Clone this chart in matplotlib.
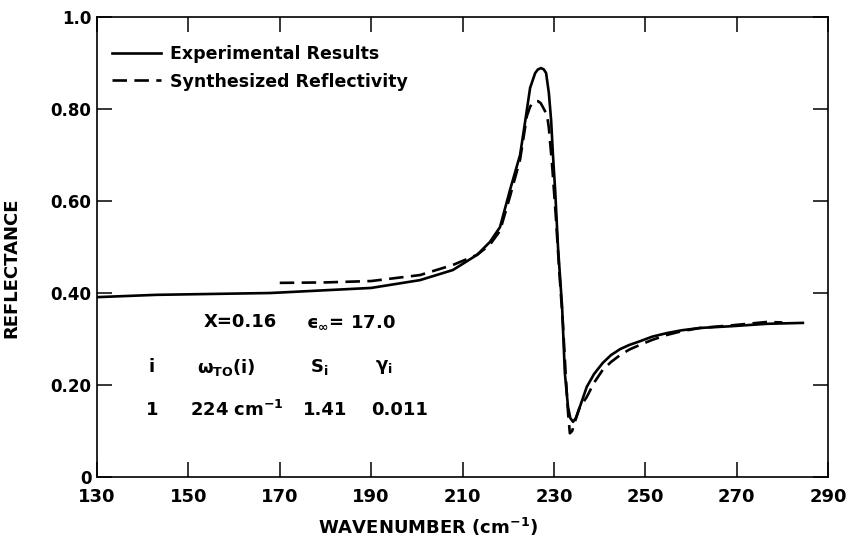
import matplotlib
matplotlib.use("Agg")
import matplotlib.pyplot as plt

plt.rcParams['font.family'] = ['DejaVu Sans']
plt.rcParams['mathtext.fontset'] = 'custom'
plt.rcParams['mathtext.rm'] = 'DejaVu Sans:bold'
plt.rcParams['mathtext.it'] = 'DejaVu Sans:bold'
plt.rcParams['mathtext.bf'] = 'DejaVu Sans:bold'
plt.rcParams['mathtext.sf'] = 'DejaVu Sans:bold'

# Experimental results (solid)
exp_x = [130, 143, 168, 190, 200.7, 207.9, 213.2, 216.0, 218.2, 220.4, 222.6,
         223.7, 224.8, 225.9, 226.5, 227.2, 227.8, 228.3, 228.9, 229.4, 229.8,
         230.3, 230.9, 231.8, 232.4, 233.1, 233.6, 234.2, 234.8, 235.6, 237.2,
         238.8, 240.7, 242.5, 244.5, 246.5, 248.8, 251.5, 254.8, 258.0, 262.0,
         269.2, 276.6, 284.5]
exp_y = [0.391, 0.396, 0.400, 0.411, 0.428, 0.450, 0.483, 0.511, 0.543, 0.624, 0.700,
         0.772, 0.846, 0.878, 0.886, 0.889, 0.886, 0.878, 0.835, 0.775, 0.700,
         0.620, 0.500, 0.370, 0.226, 0.152, 0.128, 0.120, 0.128, 0.150, 0.196,
         0.224, 0.248, 0.265, 0.278, 0.287, 0.295, 0.305, 0.313, 0.319, 0.324,
         0.328, 0.333, 0.335]

# Synthesized reflectivity (dashed)
syn_x = [170, 180, 190, 200.7, 207.9, 213.2, 216.0, 218.2, 220.4, 222.6, 224.1,
         224.8, 225.4, 225.9, 226.5, 227.1, 227.6, 228.5, 228.9, 229.6, 230.4,
         231.1, 232.0, 232.6, 233.1, 233.5, 234.0, 234.6, 235.6, 237.2, 238.8,
         240.7, 242.5, 244.5, 246.5, 248.8, 251.5, 254.8, 258.0, 262.0, 269.2,
         276.6, 280.0]
syn_y = [0.422, 0.423, 0.426, 0.439, 0.461, 0.483, 0.505, 0.535, 0.610, 0.690, 0.785,
         0.805, 0.814, 0.817, 0.817, 0.813, 0.804, 0.787, 0.759, 0.680, 0.570,
         0.460, 0.330, 0.220, 0.140, 0.095, 0.100, 0.120, 0.150, 0.174, 0.205,
         0.233, 0.250, 0.265, 0.277, 0.287, 0.298, 0.309, 0.317, 0.324, 0.330,
         0.337, 0.336]

x_ticks = [130, 150, 170, 190, 210, 230, 250, 270, 290]
y_ticks = [0, 0.2, 0.4, 0.6, 0.8, 1.0]
y_ticklabels = ['0', '0.20', '0.40', '0.60', '0.80', '1.0']

fig = plt.figure(figsize=(8.47, 5.37), dpi=100)
ax = fig.add_axes([97/847, 1-477/537, 731/847, 460/537])

ax.plot(exp_x, exp_y, color='black', lw=1.9, solid_joinstyle='round',
        label='Experimental Results')
ax.plot(syn_x, syn_y, color='black', lw=1.9, ls=(0, (5.5, 2.8)),
        label='Synthesized Reflectivity')

ax.set_xlim(130, 290)
ax.set_ylim(0, 1.0)
ax.set_xticks(x_ticks)
ax.set_xticklabels([str(t) for t in x_ticks], fontsize=13, fontweight='bold')
ax.set_yticks(y_ticks)
ax.set_yticklabels(y_ticklabels, fontsize=12, fontweight='bold')
ax.tick_params(direction='in', length=11, width=1.1, top=True, right=True)
ax.tick_params(axis='x', pad=8)
ax.tick_params(axis='y', pad=4)
for s in ax.spines.values():
    s.set_linewidth(1.2)

ax.set_xlabel('WAVENUMBER (cm$^{-1}$)', fontsize=13, fontweight='bold')
ax.xaxis.set_label_coords((428-97)/731, -0.085)
ax.set_ylabel('REFLECTANCE', fontsize=13, fontweight='bold')
ax.yaxis.set_label_coords((20-97)/731, 0.454)

leg = ax.legend(loc='upper left', bbox_to_anchor=((112-97)/731, (477-45)/460),
                frameon=False, borderpad=0, borderaxespad=0, handlelength=2.8,
                handletextpad=0.55, labelspacing=0.55,
                prop={'size': 12.5, 'weight': 'bold'})

tk = dict(fontsize=13, fontweight='bold', ha='center', va='center')
ax.text(161.3, 0.337, 'X=0.16', **tk)
ax.text(185.6, 0.337, '\u03f5$_{\u221e}$= 17.0', **tk)
ax.text(142.0, 0.239, 'i', **tk)
ax.text(158.2, 0.239, r'$\omega_{\mathrm{TO}}$(i)', **tk)
ax.text(178.6, 0.239, r'S$_{\mathrm{i}}$', **tk)
ax.text(192.8, 0.239, r'$\gamma_{\mathrm{i}}$', **tk)
ax.text(142.0, 0.146, '1', **tk)
ax.text(160.6, 0.146, r'224 cm$^{-1}$', **tk)
ax.text(179.9, 0.146, '1.41', **tk)
ax.text(196.3, 0.146, '0.011', **tk)

fig.savefig('out.png', dpi=100)
